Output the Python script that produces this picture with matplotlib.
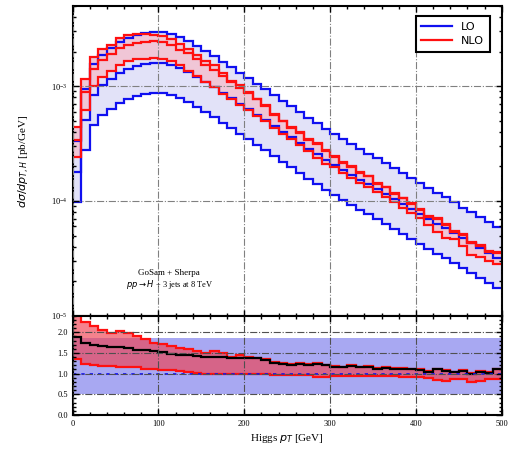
import numpy as np
import matplotlib
matplotlib.use("Agg")
import matplotlib.pyplot as plt
from matplotlib.ticker import LogLocator, NullFormatter, MultipleLocator

# Higgs pT bins, 10 GeV wide
edges = np.arange(0, 510, 10)

# LO central value per bin [pb/GeV]
lo_central = [1.79e-4, 5.07e-4, 8.38e-4, 1.02e-3, 1.16e-3, 1.30e-3, 1.41e-3, 1.50e-3, 1.56e-3, 1.59e-3,
              1.59e-3, 1.53e-3, 1.44e-3, 1.33e-3, 1.20e-3, 1.09e-3, 9.84e-4, 8.71e-4, 7.88e-4, 7.00e-4,
              6.32e-4, 5.61e-4, 5.07e-4, 4.50e-4, 3.98e-4, 3.60e-4, 3.20e-4, 2.83e-4, 2.56e-4, 2.27e-4,
              2.06e-4, 1.86e-4, 1.68e-4, 1.52e-4, 1.40e-4, 1.27e-4, 1.15e-4, 1.04e-4, 9.39e-5, 8.49e-5,
              7.69e-5, 6.95e-5, 6.28e-5, 5.81e-5, 5.25e-5, 4.74e-5, 4.29e-5, 3.88e-5, 3.51e-5, 3.18e-5]

# LO scale band relative to LO central
lo_band_low = 0.55
lo_band_high = 1.85

# NLO / LO ratio: central, scale-band upper and lower
ratio_central = [1.88, 1.75, 1.70, 1.66, 1.64, 1.64, 1.61, 1.58, 1.57, 1.55,
                 1.53, 1.48, 1.45, 1.45, 1.43, 1.41, 1.40, 1.41, 1.38, 1.37,
                 1.38, 1.38, 1.33, 1.25, 1.24, 1.21, 1.23, 1.21, 1.23, 1.20,
                 1.17, 1.15, 1.18, 1.15, 1.17, 1.11, 1.14, 1.11, 1.12, 1.10,
                 1.08, 1.04, 1.10, 1.07, 1.03, 1.07, 1.00, 1.05, 1.02, 1.10]
ratio_high = [2.45, 2.26, 2.14, 2.06, 1.98, 2.02, 1.98, 1.90, 1.83, 1.75,
              1.71, 1.67, 1.63, 1.59, 1.55, 1.51, 1.55, 1.49, 1.40, 1.45,
              1.40, 1.37, 1.35, 1.27, 1.26, 1.23, 1.25, 1.23, 1.25, 1.22,
              1.19, 1.17, 1.20, 1.17, 1.19, 1.13, 1.16, 1.13, 1.14, 1.12,
              1.10, 1.06, 1.12, 1.09, 1.05, 1.09, 1.02, 1.07, 1.04, 1.12]
ratio_low = [1.35, 1.23, 1.21, 1.19, 1.18, 1.17, 1.17, 1.15, 1.11, 1.10,
             1.09, 1.08, 1.06, 1.03, 1.02, 1.00, 1.00, 0.99, 0.99, 0.98,
             0.98, 0.98, 0.98, 0.97, 0.97, 0.97, 0.97, 0.96, 0.92, 0.92,
             0.95, 0.95, 0.95, 0.95, 0.95, 0.95, 0.95, 0.94, 0.93, 0.93,
             0.92, 0.89, 0.85, 0.82, 0.88, 0.86, 0.79, 0.83, 0.86, 0.88]

lo = np.array(lo_central)
r_c = np.array(ratio_central)
r_hi = np.array(ratio_high)
r_lo = np.array(ratio_low)

lo_up = lo * lo_band_high
lo_dn = lo * lo_band_low
nlo = lo * r_c
nlo_up = lo * r_hi
nlo_dn = lo * r_lo

BLUE = "#1010f0"
RED = "#ff1010"
SERIF = ["Liberation Serif", "DejaVu Serif"]

fig = plt.figure(figsize=(5.13, 4.54), dpi=100)
ax = fig.add_axes([0.1417, 0.3046, 0.8363, 0.6822])
axr = fig.add_axes([0.1417, 0.0859, 0.8363, 0.2187])

# --- main panel
ax.stairs(lo_up, edges, baseline=lo_dn, fill=True, color="#e2e2f8", lw=0)
ax.stairs(nlo_up, edges, baseline=nlo_dn, fill=True, color="#f0c6d6", lw=0)
for arr in (lo_up, lo, lo_dn):
    ax.stairs(arr, edges, baseline=None, color=BLUE, lw=1.6)
for arr in (nlo_up, nlo, nlo_dn):
    ax.stairs(arr, edges, baseline=None, color=RED, lw=1.6)

ax.set_yscale("log")
ax.set_xlim(0, 500)
ax.set_ylim(1e-5, 5e-3)
ax.yaxis.set_major_locator(LogLocator(base=10, numticks=10))
ax.yaxis.set_minor_locator(LogLocator(base=10, subs=np.arange(2, 10), numticks=10))
ax.yaxis.set_minor_formatter(NullFormatter())
ax.xaxis.set_major_locator(MultipleLocator(100))
ax.xaxis.set_minor_locator(MultipleLocator(20))
ax.set_xticklabels([])
ax.grid(True, which="major", ls="-.", color="#808080", lw=0.8)
ax.set_ylabel(r"$d\sigma/dp_{T,H}$ [pb/GeV]", fontsize=8, family=SERIF, labelpad=14)

ax.plot([], [], color=BLUE, lw=1.6, label="LO")
ax.plot([], [], color=RED, lw=1.6, label="NLO")
leg = ax.legend(loc="upper right", bbox_to_anchor=(0.985, 0.985), fontsize=8,
                fancybox=False, framealpha=1, edgecolor="black",
                handlelength=2.8, borderpad=0.5, labelspacing=0.4)
leg.get_frame().set_linewidth(1.5)

ax.text(0.225, 0.132, "GoSam + Sherpa", transform=ax.transAxes, ha="center",
        fontsize=6.5, family=SERIF)
ax.text(0.225, 0.092, r"$pp \to H$ + 3 jets at 8 TeV", transform=ax.transAxes,
        ha="center", fontsize=6, family=SERIF)

# --- ratio panel
axr.axhspan(0.5, 1.85, color="#a8a8f2", lw=0)
axr.stairs(r_hi, edges, baseline=r_lo, fill=True, color="#f04050", alpha=0.65, lw=0)
axr.stairs(r_hi, edges, baseline=None, color=RED, lw=1.6)
axr.stairs(r_lo, edges, baseline=None, color=RED, lw=1.6)
axr.stairs(r_c, edges, baseline=None, color="black", lw=1.6)
axr.axhline(1.0, color=BLUE, ls=(0, (2, 3)), lw=1.2)

axr.set_xlim(0, 500)
axr.set_ylim(0, 2.4)
axr.xaxis.set_major_locator(MultipleLocator(100))
axr.xaxis.set_minor_locator(MultipleLocator(20))
axr.yaxis.set_major_locator(MultipleLocator(0.5))
axr.yaxis.set_minor_locator(MultipleLocator(0.1))
axr.yaxis.set_major_formatter(plt.FormatStrFormatter("%.1f"))
axr.grid(True, which="major", ls="-.", color="#505050", lw=0.8)
axr.set_xlabel(r"Higgs $p_T$ [GeV]", fontsize=8, family=SERIF, labelpad=3)

for a in (ax, axr):
    a.set_axisbelow(False)
    a.tick_params(which="both", direction="in", top=True, right=True,
                  labelsize=6, width=1.0)
    a.tick_params(which="major", length=4)
    a.tick_params(which="minor", length=2)
    for lab in a.get_xticklabels() + a.get_yticklabels():
        lab.set_family(SERIF)
    for s in a.spines.values():
        s.set_linewidth(1.5)

fig.savefig("out.png", dpi=100)
